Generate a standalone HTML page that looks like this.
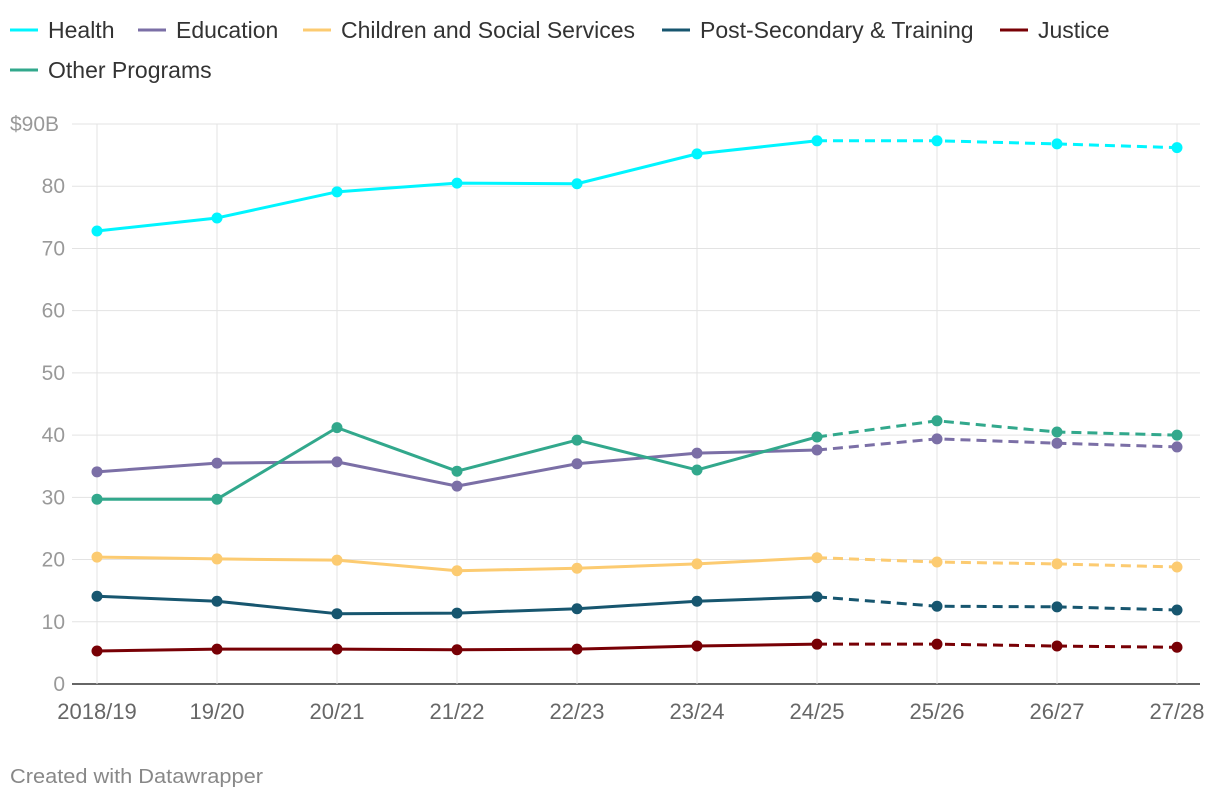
<!DOCTYPE html>
<html><head><meta charset="utf-8">
<style>
body{margin:0;background:#fff;font-family:"Liberation Sans",sans-serif;}
svg text{font-family:"Liberation Sans",sans-serif;}
</style></head>
<body>
<svg id="chart" width="1220" height="800" xmlns="http://www.w3.org/2000/svg"></svg>
<script>
const categories=["2018/19","19/20","20/21","21/22","22/23","23/24","24/25","25/26","26/27","27/28"];
const health=[72.8,74.9,79.1,80.5,80.4,85.2,87.3,87.3,86.8,86.2];
const education=[34.1,35.5,35.7,31.8,35.4,37.1,37.6,39.4,38.7,38.1];
const children=[20.4,20.1,19.9,18.2,18.6,19.3,20.3,19.6,19.3,18.8];
const postSecondary=[14.1,13.3,11.3,11.4,12.1,13.3,14.0,12.5,12.4,11.9];
const justice=[5.3,5.6,5.6,5.5,5.6,6.1,6.4,6.4,6.1,5.9];
const otherPrograms=[29.7,29.7,41.2,34.2,39.2,34.4,39.7,42.3,40.5,40.0];
const yTicks=[0,10,20,30,40,50,60,70,80,90];
const yTickLabels=["0","10","20","30","40","50","60","70","80","$90B"];
const seriesNames=["Health","Education","Children and Social Services","Post-Secondary & Training","Justice","Other Programs"];
const lastActual=6;

const svg=document.getElementById('chart');
const NS="http://www.w3.org/2000/svg";
const x=i=>97+i*120;
const y=v=>684-v*(560/90);
function el(tag,attrs,parent){const e=document.createElementNS(NS,tag);for(const k in attrs)e.setAttribute(k,attrs[k]);(parent||svg).appendChild(e);return e;}

const series=[
 {name:seriesNames[0],data:health,color:"#00f5ff"},
 {name:seriesNames[1],data:education,color:"#7b6fa6"},
 {name:seriesNames[2],data:children,color:"#fccb71"},
 {name:seriesNames[3],data:postSecondary,color:"#17566f"},
 {name:seriesNames[4],data:justice,color:"#780005"},
 {name:seriesNames[5],data:otherPrograms,color:"#32a88c"}
];

yTicks.forEach((t,i)=>{
 const g=el('line',{x1:72,x2:1200,y1:y(t),y2:y(t),stroke:t===0?'#333':'#e3e3e3','stroke-width':t===0?1.5:1});
 
 
 const lab=el('text',{x:t===90?10:65,y:y(t)+7,'font-size':21,fill:'#999','text-anchor':t===90?'start':'end'});
 lab.textContent=yTickLabels[i];
 
 
});
categories.forEach((c,i)=>{
 const g=el('line',{x1:x(i),x2:x(i),y1:y(90),y2:y(0),stroke:'#e3e3e3','stroke-width':1});
 
 
 const lab=el('text',{x:x(i),y:719,'font-size':22,fill:'#666','text-anchor':'middle'});
 lab.textContent=c;
 
 
});

series.forEach(s=>{
 const g=el('g',{});
 
 
 const solid=s.data.slice(0,lastActual+1).map((v,i)=>x(i)+','+y(v)).join(' ');
 const dashed=s.data.slice(lastActual).map((v,i)=>x(i+lastActual)+','+y(v)).join(' ');
 const p1=el('polyline',{points:solid,fill:'none',stroke:s.color,'stroke-width':3,'stroke-linejoin':'round'},g);
 
 
 const p2=el('polyline',{points:dashed,fill:'none',stroke:s.color,'stroke-width':3,'stroke-dasharray':'10,6'},g);
 
 
 s.data.forEach((v,i)=>{
  const c=el('circle',{cx:x(i),cy:y(v),r:5.5,fill:s.color},g);
  
  
 });
});

const legPos=[[48,30],[176,30],[341,30],[700,30],[1038,30],[48,70]];
series.forEach((s,i)=>{
 const [lx,ly]=legPos[i];
 const g=el('g',{});
 
 
 el('line',{x1:lx-38,x2:lx-10,y1:ly,y2:ly,stroke:s.color,'stroke-width':3},g);
 const t=el('text',{x:lx,y:ly+8,'font-size':23,fill:'#333'},g);
 t.textContent=s.name;
});

const f=el('text',{x:10,y:783,'font-size':20,fill:'#888',textLength:253,lengthAdjust:'spacingAndGlyphs'});
f.textContent="Created with Datawrapper";


</script>
</body></html>
